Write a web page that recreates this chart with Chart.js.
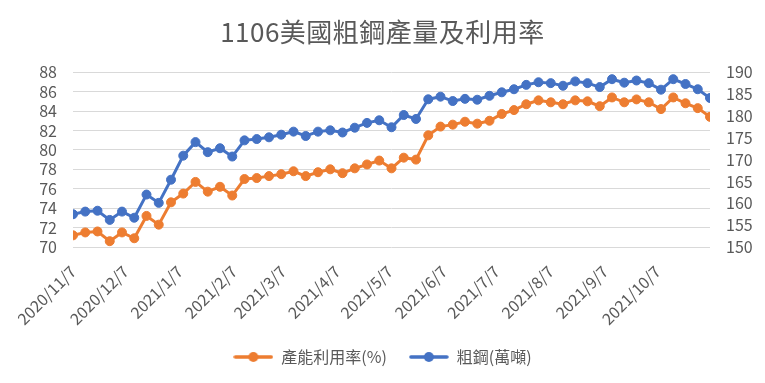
<!DOCTYPE html>
<html>
<head>
<meta charset="utf-8">
<script src="https://cdn.jsdelivr.net/npm/chart.js@4"></script>
<style>
  html, body { margin: 0; padding: 0; background: #ffffff; }
  #wrap { width: 765px; height: 383px; position: relative; }
</style>
</head>
<body>
<div id="wrap"><canvas id="c"></canvas></div>
<script>
// ---- data ----
const chartTitle = '1106美國粗鋼產量及利用率';
const seriesNames = ['產能利用率(%)', '粗鋼(萬噸)'];
const weekDates = [
  '2020/11/7','2020/11/14','2020/11/21','2020/11/28',
  '2020/12/5','2020/12/12','2020/12/19','2020/12/26',
  '2021/1/2','2021/1/9','2021/1/16','2021/1/23','2021/1/30',
  '2021/2/6','2021/2/13','2021/2/20','2021/2/27',
  '2021/3/6','2021/3/13','2021/3/20','2021/3/27',
  '2021/4/3','2021/4/10','2021/4/17','2021/4/24',
  '2021/5/1','2021/5/8','2021/5/15','2021/5/22','2021/5/29',
  '2021/6/5','2021/6/12','2021/6/19','2021/6/26',
  '2021/7/3','2021/7/10','2021/7/17','2021/7/24','2021/7/31',
  '2021/8/7','2021/8/14','2021/8/21','2021/8/28',
  '2021/9/4','2021/9/11','2021/9/18','2021/9/25',
  '2021/10/2','2021/10/9','2021/10/16','2021/10/23','2021/10/30',
  '2021/11/6'
];
const utilization = [
  71.2, 71.5, 71.6, 70.6, 71.5, 70.9, 73.2, 72.3, 74.6, 75.5,
  76.7, 75.7, 76.2, 75.3, 77.0, 77.1, 77.3, 77.5, 77.8, 77.3,
  77.7, 78.0, 77.6, 78.1, 78.5, 78.9, 78.1, 79.2, 79.0, 81.5,
  82.4, 82.6, 82.9, 82.7, 83.0, 83.7, 84.1, 84.7, 85.1, 84.9,
  84.7, 85.1, 85.0, 84.5, 85.4, 84.9, 85.2, 84.9, 84.2, 85.4,
  84.8, 84.3, 83.4
];
const production = [
  157.5, 158.1, 158.3, 156.2, 158.1, 156.7, 162.0, 160.1, 165.4, 170.9,
  174.0, 171.7, 172.6, 170.7, 174.4, 174.7, 175.1, 175.7, 176.4, 175.4,
  176.4, 176.7, 176.2, 177.3, 178.4, 179.0, 177.4, 180.2, 179.3, 183.8,
  184.4, 183.4, 183.9, 183.7, 184.6, 185.4, 186.1, 187.1, 187.7, 187.5,
  186.9, 187.9, 187.5, 186.6, 188.4, 187.6, 188.1, 187.5, 186.0, 188.4,
  187.3, 186.1, 184.1
];
const xTickLabels = [
  '2020/11/7','2020/12/7','2021/1/7','2021/2/7','2021/3/7','2021/4/7',
  '2021/5/7','2021/6/7','2021/7/7','2021/8/7','2021/9/7','2021/10/7'
];
const leftAxis = { min: 70, max: 88, step: 2 };
const rightAxis = { min: 150, max: 190, step: 5 };

// ---- helpers ----
const FONT = '"Noto Sans CJK TC", "Noto Sans", sans-serif';
const TEXT = '#595959';
const ORANGE = '#ED7D31';
const BLUE = '#4472C4';
function dayNum(s) {
  const [y, m, d] = s.split('/').map(Number);
  return Date.UTC(y, m - 1, d) / 86400000;
}
const day0 = dayNum(weekDates[0]);
const xs = weekDates.map(s => dayNum(s) - day0);
const tickDays = xTickLabels.map(s => dayNum(s) - day0);

function legendIcon(color) {
  const cv = document.createElement('canvas');
  cv.width = 40; cv.height = 12;
  const g = cv.getContext('2d');
  g.strokeStyle = color; g.lineWidth = 3.5; g.lineCap = 'round';
  g.beginPath(); g.moveTo(2, 6); g.lineTo(38, 6); g.stroke();
  g.fillStyle = color;
  g.beginPath(); g.arc(20, 6, 5, 0, Math.PI * 2); g.fill();
  return cv;
}
const legendIcons = [legendIcon(ORANGE), legendIcon(BLUE)];

const titleSpacing = {
  id: 'titleSpacing',
  beforeDraw(chart) {
    const tb = chart.titleBlock;
    if (tb && !tb._spaced) {
      const orig = tb.draw;
      tb.draw = function (area) {
        const ctx = chart.ctx;
        ctx.save();
        ctx.letterSpacing = '0.5px';
        orig.call(tb, area);
        ctx.restore();
      };
      tb._spaced = true;
    }
  }
};

new Chart(document.getElementById('c'), {
  type: 'line',
  data: {
    datasets: [
      {
        label: seriesNames[0],
        data: xs.map((x, i) => ({ x, y: utilization[i] })),
        yAxisID: 'yL',
        borderColor: ORANGE, backgroundColor: ORANGE,
        pointBackgroundColor: ORANGE, pointBorderColor: ORANGE,
        borderWidth: 3, pointRadius: 4.5, pointBorderWidth: 1,
        tension: 0
      },
      {
        label: seriesNames[1],
        data: xs.map((x, i) => ({ x, y: production[i] })),
        yAxisID: 'yR',
        borderColor: BLUE, backgroundColor: BLUE,
        pointBackgroundColor: BLUE, pointBorderColor: BLUE,
        borderWidth: 3, pointRadius: 4.5, pointBorderWidth: 1,
        tension: 0
      }
    ]
  },
  options: {
    responsive: true,
    maintainAspectRatio: false,
    animation: false,
    layout: { padding: { top: 0, bottom: 8, left: 0, right: 0 } },
    plugins: {
      title: {
        display: true,
        text: chartTitle,
        color: TEXT,
        font: { family: FONT, size: 26, weight: 'normal', lineHeight: 1.2 },
        padding: { top: 17, bottom: 24 }
      },
      legend: {
        position: 'bottom',
        labels: {
          usePointStyle: true,
          pointStyleWidth: 40,
          boxHeight: 12,
          padding: 22,
          color: TEXT,
          font: { family: FONT, size: 16 },
          generateLabels(chart) {
            const items = Chart.defaults.plugins.legend.labels.generateLabels(chart);
            items.forEach((it, i) => { it.pointStyle = legendIcons[i]; });
            return items;
          }
        }
      },
      tooltip: { enabled: false }
    },
    scales: {
      x: {
        type: 'linear',
        min: xs[0],
        max: xs[xs.length - 1],
        grid: { display: false, drawTicks: false },
        border: { display: false },
        afterBuildTicks(scale) { scale.ticks = tickDays.map(v => ({ value: v })); },
        afterFit(scale) { scale.height = 80; },
        ticks: {
          autoSkip: false,
          minRotation: 45, maxRotation: 45,
          padding: 15,
          color: TEXT,
          font: { family: FONT, size: 16 },
          callback(value, index) { return xTickLabels[index]; }
        }
      },
      yL: {
        position: 'left',
        min: leftAxis.min, max: leftAxis.max,
        afterFit(scale) { scale.width = 73; },
        grid: { color: '#d9d9d9', lineWidth: 1, drawTicks: false },
        border: { display: false },
        ticks: {
          stepSize: leftAxis.step, autoSkip: false, maxTicksLimit: 50,
          padding: 16, color: TEXT,
          font: { family: FONT, size: 16 }
        }
      },
      yR: {
        position: 'right',
        min: rightAxis.min, max: rightAxis.max,
        afterFit(scale) { scale.width = 55; },
        grid: { display: false, drawTicks: false },
        border: { display: false },
        ticks: {
          stepSize: rightAxis.step, autoSkip: false, maxTicksLimit: 50,
          padding: 16, color: TEXT,
          font: { family: FONT, size: 16 }
        }
      }
    }
  },
  plugins: [titleSpacing]
});
</script>
</body>
</html>
